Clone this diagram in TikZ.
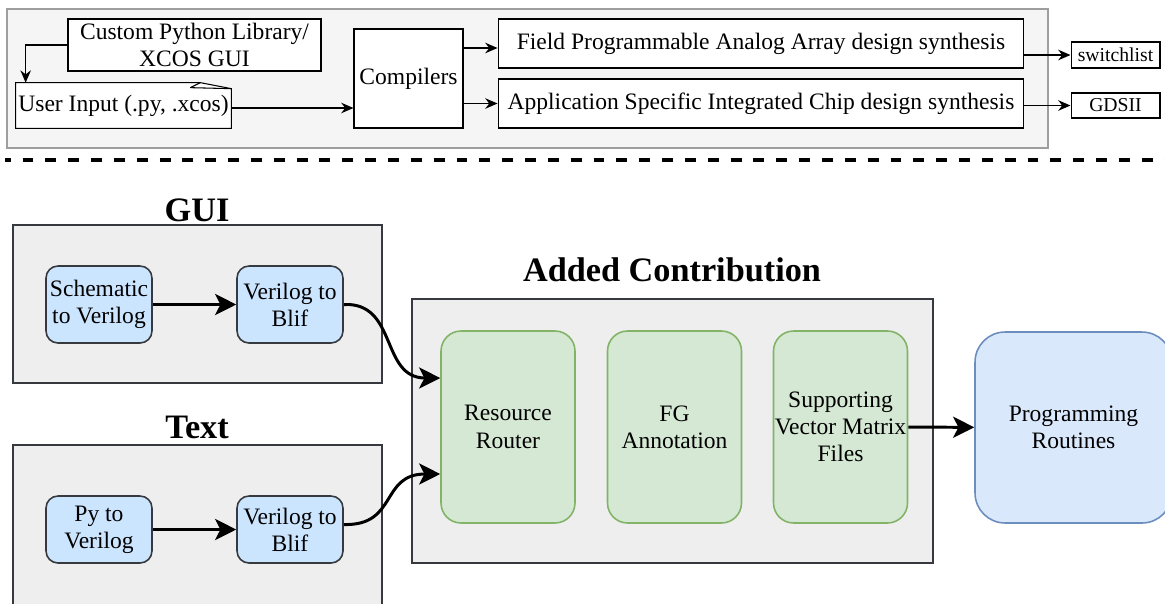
\documentclass[tikz,border=0pt]{standalone}
\usepackage{fontspec}
\setmainfont{Liberation Serif}
\usepackage{tikz}
\usetikzlibrary{arrows.meta,positioning,calc}
\definecolor{topgray}{HTML}{F5F5F5}
\definecolor{topline}{HTML}{9E9E9E}
\definecolor{framegray}{HTML}{EEEEEE}
\definecolor{darkline}{HTML}{36393D}
\definecolor{bluefill}{HTML}{CCE5FF}
\definecolor{greenfill}{HTML}{D5E8D4}
\definecolor{greenline}{HTML}{82B366}
\definecolor{progfill}{HTML}{DAE8FC}
\definecolor{progline}{HTML}{6C8EBF}

\begin{document}
\begin{tikzpicture}[x=0.02cm,y=-0.02cm,
    font=\fontsize{13.4}{15.5}\selectfont,
    topbox/.style={draw=black,fill=white,line width=0.6pt,inner sep=0pt,align=center},
    toparrow/.style={-{Stealth[length=7pt,width=6pt]},line width=0.8pt},
    frame/.style={draw=darkline,fill=framegray,line width=0.9pt,inner sep=0pt},
    stage/.style={draw=darkline,fill=bluefill,line width=0.9pt,rounded corners=0.24cm,
        minimum width=2.12cm,align=center,inner sep=0pt},
    part/.style={draw=greenline,fill=greenfill,line width=0.9pt,rounded corners=0.4cm,
        minimum width=2.68cm,minimum height=3.84cm,align=center,inner sep=0pt},
    bigarrow/.style={-{Stealth[length=12pt,width=12pt,inset=3pt]},line width=1.7pt},
    title/.style={font=\fontsize{19.5}{22}\selectfont\bfseries}]
    \useasboundingbox (0,0) rectangle (1165,603);

    % top flow
    \draw[topline,fill=topgray,line width=0.8pt] (7,9) rectangle (1048,148);
    \node [topbox,minimum width=5.06cm,minimum height=1.04cm] (custom) at (194.5,45) {Custom Python Library/\\XCOS GUI};
    \node [inner sep=0pt,minimum width=4.3cm,minimum height=0.9cm] (input) at (123.5,105.5) {User Input (.py, .xcos)};
    \draw[fill=white,line width=0.6pt] (input.north west) -- ($(input.north east)+(-31,0)$)
        -- ($(input.north east)+(0,6)$) -- (input.south east) -- (input.south west) -- cycle;
    \draw[line width=0.6pt] ($(input.north east)+(-41,5)$) -- ($(input.north east)+(-31,0)$);
    \draw[line width=0.6pt] ($(input.north east)+(-41,5)$) -- ($(input.north east)+(0,6)$);
    \node at (input) {User Input (.py, .xcos)};
    \node [topbox,minimum width=2.18cm,minimum height=1.98cm] (compilers) at (408.5,78.5) {Compilers};
    \node [topbox,minimum width=10.52cm,minimum height=0.98cm] (fpaa) at (761,43.5) {Field Programmable Analog Array design synthesis};
    \node [topbox,minimum width=10.52cm,minimum height=0.98cm] (asic) at (761,103.5) {Application Specific Integrated Chip design synthesis};
    \node [topbox,minimum width=1.78cm,minimum height=0.52cm,font=\fontsize{11.2}{13}\selectfont] (switchlist) at (1115.5,55) {switchlist};
    \node [topbox,minimum width=1.78cm,minimum height=0.5cm,font=\fontsize{11.2}{13}\selectfont] (gdsii) at (1115.5,105.5) {GDSII};

    \draw[toparrow] (custom.west) -| ([xshift=0.2cm]input.north west);
    \draw[toparrow] ([yshift=-0.05cm]input.east) -- ([yshift=-0.05cm]input.east -| compilers.west);
    \draw[toparrow] ([yshift=-0.09cm]fpaa.west -| compilers.east) -- ([yshift=-0.09cm]fpaa.west);
    \draw[toparrow] (asic.west -| compilers.east) -- (asic.west);
    \draw[toparrow] (switchlist.west -| fpaa.east) -- (switchlist.west);
    \draw[toparrow] (gdsii.west -| asic.east) -- (gdsii.west);

    \draw[line width=2.2pt,dash pattern=on 6.2pt off 6.8pt,dash phase=3pt] (5,160) -- (1165,160);

    % GUI path
    \node [title] (guititle) at (197,210) {GUI};
    \node [frame,minimum width=7.38cm,minimum height=3.16cm] (guiframe) at (197.5,304) {};
    \node [stage,minimum height=1.54cm] (schem) at (99,304.5) {Schematic\\to Verilog};
    \node [stage,minimum height=1.54cm] (vtb1) at (290,304.5) {Verilog to\\Blif};
    \draw[bigarrow] (schem) -- (vtb1);

    % Text path
    \node [title] (texttitle) at (197,427) {Text};
    \node [frame,minimum width=7.38cm,minimum height=3.5cm] (textframe) at (197.5,532.5) {};
    \node [stage,minimum height=1.34cm] (py) at (99,529.5) {Py to\\Verilog};
    \node [stage,minimum height=1.34cm] (vtb2) at (290,529.5) {Verilog to\\Blif};
    \draw[bigarrow] (py) -- (vtb2);

    % added contribution
    \node [title] (addtitle) at (672,270) {Added Contribution};
    \node [frame,minimum width=10.42cm,minimum height=5.28cm] (contrib) at (672.5,431) {};
    \node [part] (router) at (508,427) {Resource\\Router};
    \node [part] (fg) at (674.5,427) {FG\\Annotation};
    \node [part] (svm) at (840.5,427) {Supporting\\Vector Matrix\\Files};
    \node [draw=progline,fill=progfill,line width=0.9pt,rounded corners=0.6cm,
        minimum width=3.94cm,minimum height=3.82cm,align=center] (prog) at (1073.5,427.5) {Programming\\Routines};

    \draw[bigarrow] (vtb1.east) .. controls (398,302) and (380,378) .. ([yshift=0.98cm]router.west);
    \draw[bigarrow] ([yshift=0.1cm]vtb2.east) .. controls (398,526) and (380,474) .. ([yshift=-0.94cm]router.west);
    \draw[bigarrow] (svm) -- (prog);
\end{tikzpicture}
\end{document}
